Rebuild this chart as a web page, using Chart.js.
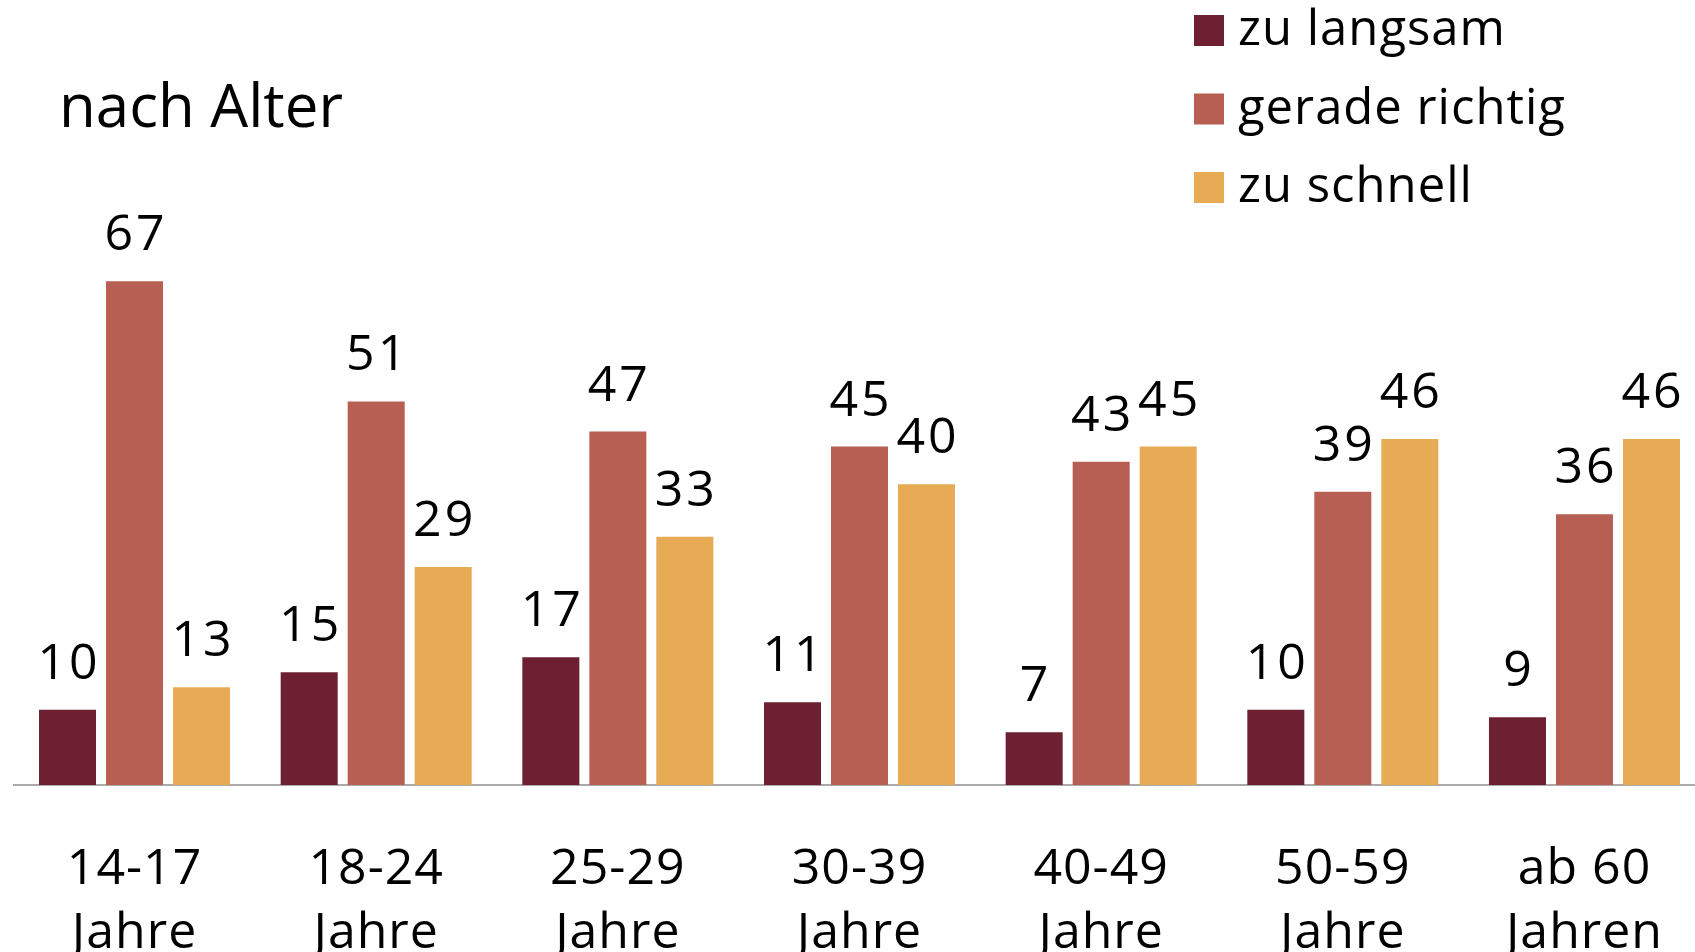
<!DOCTYPE html>
<html>
<head>
<meta charset="utf-8">
<script src="https://cdn.jsdelivr.net/npm/chart.js@4"></script>
<style>
  html, body { margin: 0; padding: 0; background: #fff; overflow: hidden; }
  #wrap { width: 1720px; height: 952px; }
</style>
</head>
<body>
<div id="wrap"><canvas id="c" width="1720" height="952"></canvas></div>
<script>
const categories = [['14-17', 'Jahre'], ['18-24', 'Jahre'], ['25-29', 'Jahre'], ['30-39', 'Jahre'], ['40-49', 'Jahre'], ['50-59', 'Jahre'], ['ab 60', 'Jahren']];
const seriesNames = ['zu langsam', 'gerade richtig', 'zu schnell'];
const zuLangsam = [10, 15, 17, 11, 7, 10, 9];
const geradeRichtig = [67, 51, 47, 45, 43, 39, 36];
const zuSchnell = [13, 29, 33, 40, 45, 46, 46];
const colors = ['#6d2032', '#b65f52', '#e6ab54'];
const titleText = 'nach Alter';

const FONT = '"Open Sans", "Noto Sans", sans-serif';

const spacingPlugin = {
  id: 'spacing',
  beforeDraw(chart) { chart.ctx.letterSpacing = '1px'; }
};

const labelPlugin = {
  id: 'valueLabels',
  afterDatasetsDraw(chart) {
    const ctx = chart.ctx;
    ctx.save();
    ctx.fillStyle = '#000';
    ctx.font = '50px ' + FONT;
    ctx.letterSpacing = '3px';
    ctx.textAlign = 'center';
    ctx.textBaseline = 'alphabetic';
    chart.data.datasets.forEach((ds, i) => {
      const meta = chart.getDatasetMeta(i);
      meta.data.forEach((bar, j) => {
        ctx.fillText(String(ds.data[j]), bar.x + 1.5, bar.y - 31);
      });
    });
    ctx.restore();
  }
};

const legendTitlePlugin = {
  id: 'legendTitle',
  afterDraw(chart) {
    const ctx = chart.ctx;
    ctx.save();
    ctx.fillStyle = '#000';
    ctx.font = '60px ' + FONT;
    ctx.letterSpacing = '0px';
    ctx.textAlign = 'left';
    ctx.textBaseline = 'alphabetic';
    ctx.fillText(titleText, 59, 127);
    ctx.font = '49px ' + FONT;
    ctx.letterSpacing = '1px';
    chart.data.datasets.forEach((ds, i) => {
      const y0 = 15 + i * 78.5;
      ctx.fillStyle = ds.backgroundColor;
      ctx.fillRect(1194, y0, 30, 31);
      ctx.fillStyle = '#000';
      ctx.fillText(ds.label, 1238, 45 + i * 78.5);
    });
    ctx.restore();
  }
};

new Chart(document.getElementById('c'), {
  type: 'bar',
  data: {
    labels: categories,
    datasets: [
      { label: seriesNames[0], data: zuLangsam, backgroundColor: colors[0] },
      { label: seriesNames[1], data: geradeRichtig, backgroundColor: colors[1] },
      { label: seriesNames[2], data: zuSchnell, backgroundColor: colors[2] }
    ]
  },
  options: {
    responsive: false,
    animation: false,
    devicePixelRatio: 1,
    categoryPercentage: 0.8317,
    barPercentage: 0.851,
    layout: { padding: { top: 33, left: 13.7, right: 14.7, bottom: 0 } },
    plugins: { legend: { display: false }, tooltip: { enabled: false } },
    scales: {
      y: { display: false, min: 0, max: 100 },
      x: {
        afterFit: (s) => { s.height = 167; },
        grid: { display: true, drawOnChartArea: false, drawTicks: false, color: 'rgba(0,0,0,0)' },
        border: { display: true, color: '#aaaaaa', width: 2 },
        ticks: {
          color: '#000',
          padding: 53,
          font: { family: FONT, size: 50, lineHeight: 1.27 },
          maxRotation: 0
        }
      }
    }
  },
  plugins: [spacingPlugin, labelPlugin, legendTitlePlugin]
});
</script>
</body>
</html>
